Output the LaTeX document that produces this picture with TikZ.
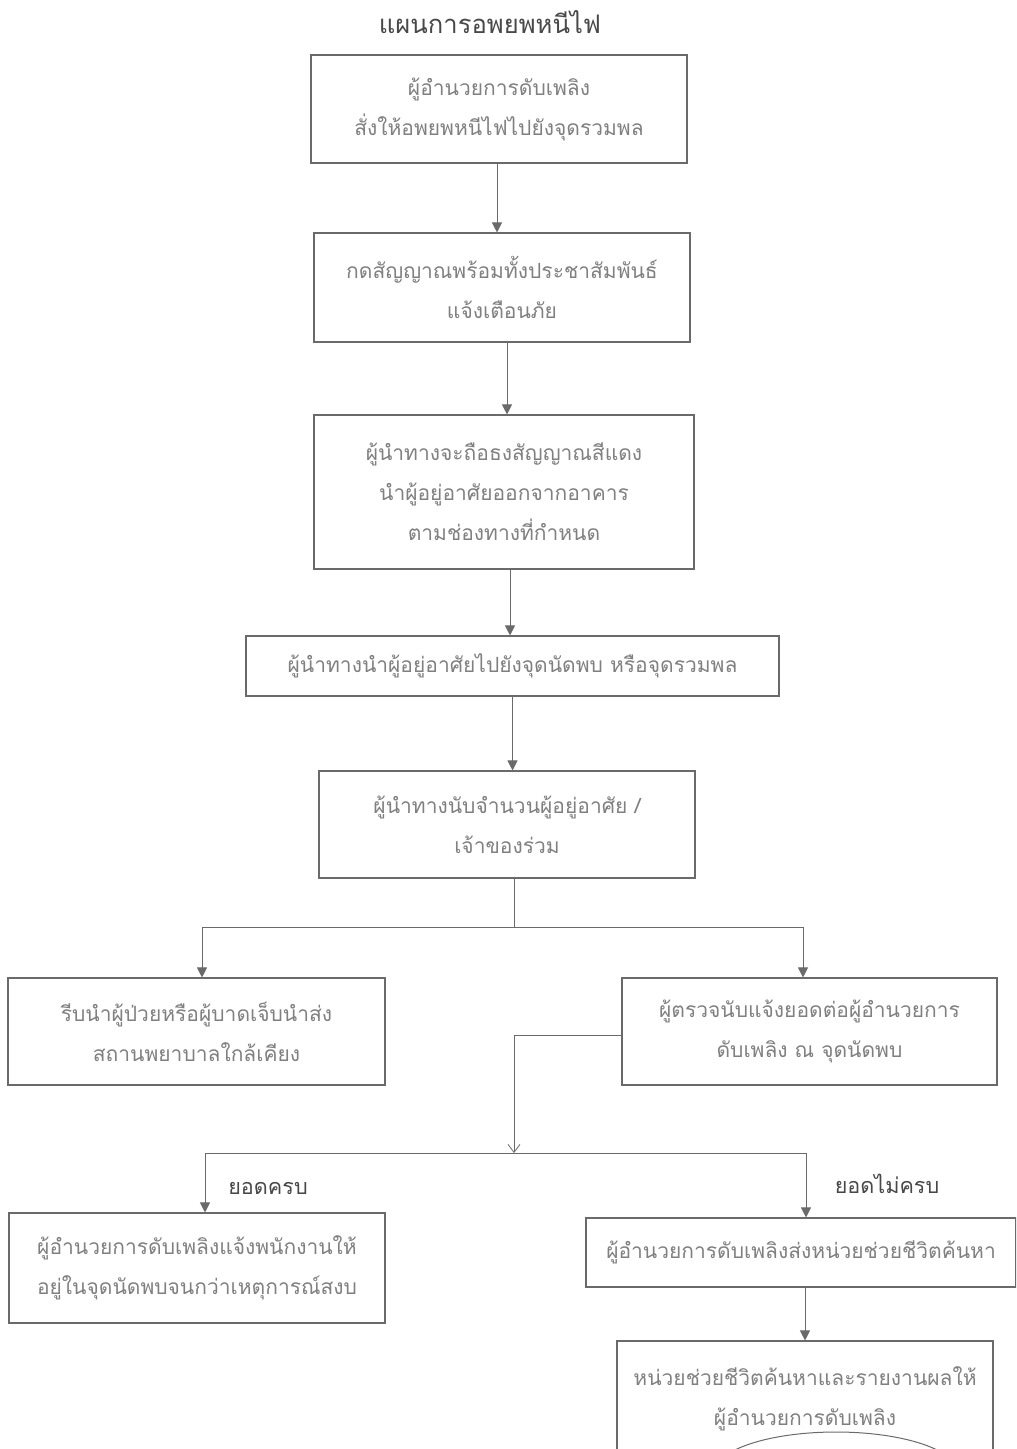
\documentclass[tikz,border=0pt]{standalone}
\usepackage{fontspec}
\newfontfamily\thai[Script=Thai]{Loma}
\usetikzlibrary{arrows.meta,positioning}
\definecolor{linec}{HTML}{6A6A6A}
\definecolor{textc}{HTML}{808080}
\definecolor{darkt}{HTML}{484848}
\tikzset{
  box/.style={draw=linec, line width=0.55pt, rectangle, align=center, inner sep=0pt,
    text=textc, font=\thai\fontsize{10.5}{20}\selectfont},
  arr/.style={draw=linec, line width=0.5pt, -{Triangle[length=5pt,width=5pt]}},
  openarr/.style={draw=linec, line width=0.4pt, -{Straight Barb[length=4pt,width=6pt]}},
  lbl/.style={text=darkt, font=\thai\fontsize{10.8}{14}\selectfont, inner sep=0pt},
}
\begin{document}
\begin{tikzpicture}[x=0.5pt,y=-0.5pt]
\path[use as bounding box, clip] (0,0) rectangle (1016,1449);
\fill[white] (0,0) rectangle (1016,1449);

\node[text=darkt, font=\thai\fontsize{12.8}{16}\selectfont] (title) at (490,22) {แผนการอพยพหนีไฟ};

\node[box, minimum width=188pt, minimum height=54pt] (b1) at (499,109)
  {ผู้อำนวยการดับเพลิง\\สั่งให้อพยพหนีไฟไปยังจุดรวมพล};
\node[box, minimum width=188pt, minimum height=54.5pt] (b2) at (502,287.5)
  {กดสัญญาณพร้อมทั้งประชาสัมพันธ์\\แจ้งเตือนภัย};
\node[box, minimum width=190pt, minimum height=77pt] (b3) at (504,492)
  {ผู้นำทางจะถือธงสัญญาณสีแดง\\นำผู้อยู่อาศัยออกจากอาคาร\\ตามช่องทางที่กำหนด};
\node[box, minimum width=266.5pt, minimum height=30pt] (b4) at (512.5,666)
  {ผู้นำทางนำผู้อยู่อาศัยไปยังจุดนัดพบ หรือจุดรวมพล};
\node[box, minimum width=188pt, minimum height=53.5pt] (b5) at (507,824.5)
  {ผู้นำทางนับจำนวนผู้อยู่อาศัย /\\เจ้าของร่วม};
\node[box, minimum width=188.5pt, minimum height=53.5pt] (b6) at (196.5,1031.5)
  {รีบนำผู้ป่วยหรือผู้บาดเจ็บนำส่ง\\สถานพยาบาลใกล้เคียง};
\node[box, minimum width=187.5pt, minimum height=53.5pt] (b7) at (809.5,1031.5)
  {ผู้ตรวจนับแจ้งยอดต่อผู้อำนวยการ\\ดับเพลิง ณ จุดนัดพบ};
\node[box, minimum width=188pt, minimum height=55pt] (b8) at (197,1268)
  {ผู้อำนวยการดับเพลิงแจ้งพนักงานให้\\อยู่ในจุดนัดพบจนกว่าเหตุการณ์สงบ};
\node[box, minimum width=215pt, minimum height=34.5pt] (b9) at (801,1252.5)
  {ผู้อำนวยการดับเพลิงส่งหน่วยช่วยชีวิตค้นหา};
\node[box, minimum width=188pt, minimum height=64pt] (b10) at (805,1405) {};
\node[text=textc, font=\thai\fontsize{10.5}{20}\selectfont, align=center, anchor=north] (t10) at (805,1360)
  {หน่วยช่วยชีวิตค้นหาและรายงานผลให้\\ผู้อำนวยการดับเพลิง};

\node[lbl] (l1) at (268,1188) {ยอดครบ};
\node[lbl] (l2) at (887,1184) {ยอดไม่ครบ};

% connectors
\draw[arr] ([xshift=-1pt]b1.south) -- ([xshift=-1pt]b1.south |- b2.north);
\draw[arr] ([xshift=2.5pt]b2.south) -- ([xshift=2.5pt]b2.south |- b3.north);
\draw[arr] ([xshift=3pt]b3.south) -- ([xshift=3pt]b3.south |- b4.north);
\draw[arr] (b4.south) -- (b4.south |- b5.north);
\coordinate (s1) at (514,927);
\draw[draw=linec, line width=0.5pt] ([xshift=3.5pt]b5.south) -- (s1);
\draw[arr] (s1) -| ([xshift=2.75pt]b6.north);
\draw[arr] (s1) -| ([xshift=-3.25pt]b7.north);
\coordinate (s2) at (514,1153);
\draw[openarr] ([yshift=-1.75pt]b7.west) -| (s2);
\draw[arr] (s2) -| ([xshift=4pt]b8.north);
\draw[arr] (s2) -| ([xshift=2.5pt]b9.north);
\draw[arr] (b10.north |- b9.south) -- (b10.north);

% partial shape below the last box
\draw[linec, line width=0.5pt] (836,1472) ellipse [x radius=121, y radius=40];
\end{tikzpicture}
\end{document}
